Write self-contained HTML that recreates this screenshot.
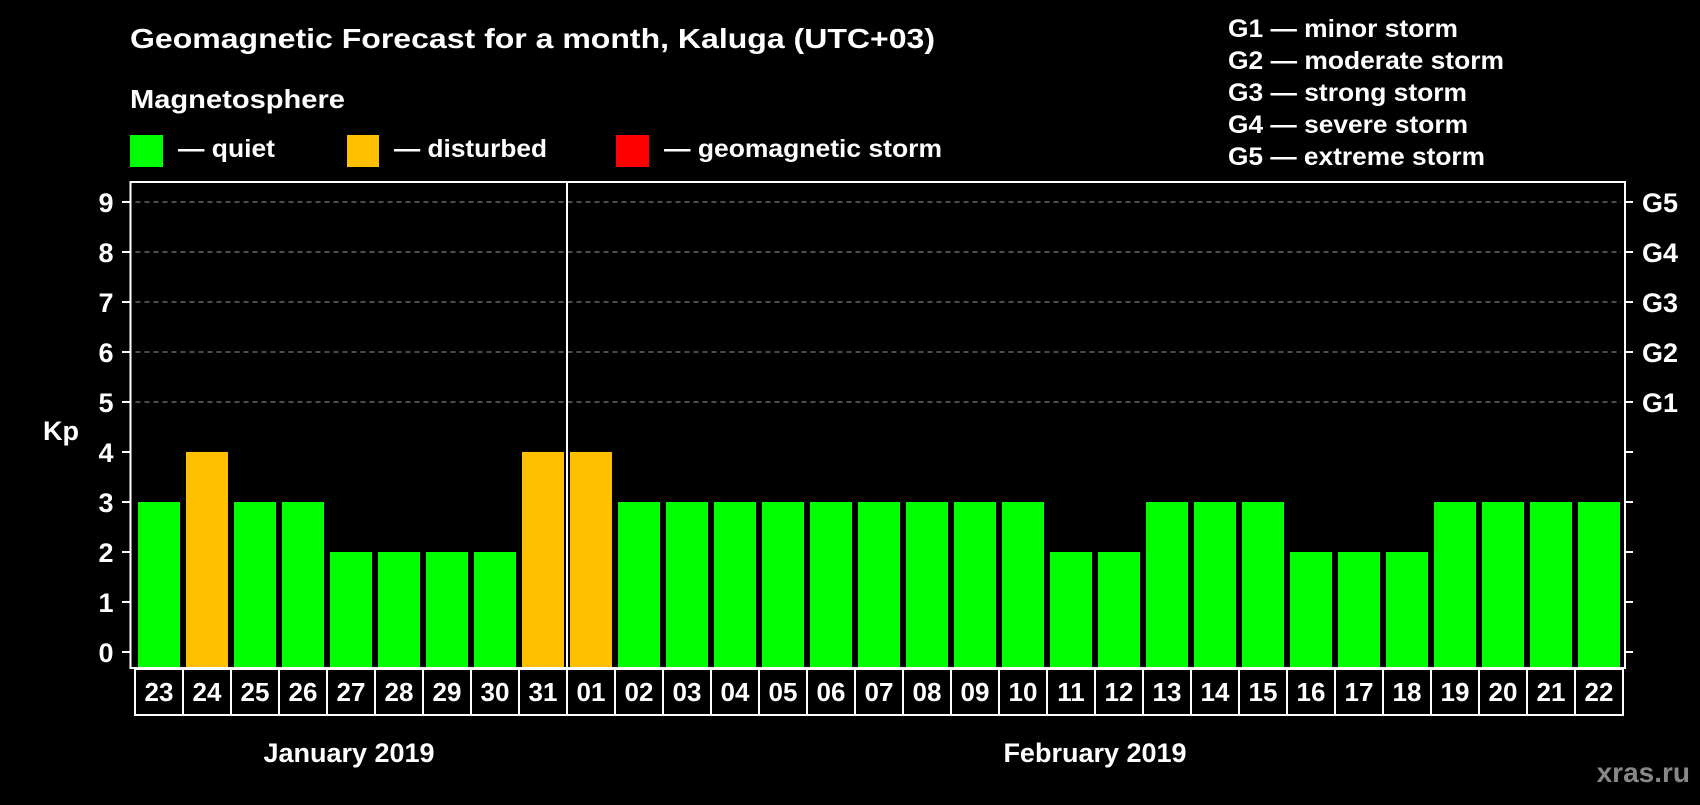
<!DOCTYPE html>
<html><head><meta charset="utf-8"><style>
html,body{margin:0;padding:0;background:#000;}
svg text{font-family:"Liberation Sans",Arial,sans-serif;font-weight:bold;fill:#fff;}
</style></head><body>
<svg id="chart" width="1700" height="800" viewBox="0 0 1700 800" xmlns="http://www.w3.org/2000/svg">
<rect width="1700" height="800" fill="#000"/>
<text x="130" y="48" font-size="28" textLength="805" lengthAdjust="spacingAndGlyphs">Geomagnetic Forecast for a month, Kaluga (UTC+03)</text>
<text x="130" y="108" font-size="26" textLength="215" lengthAdjust="spacingAndGlyphs">Magnetosphere</text>
<g>
<rect x="130" y="135" width="33" height="32" fill="#00ff00"/>
<text x="178" y="157" font-size="25" textLength="97" lengthAdjust="spacingAndGlyphs">— quiet</text></g>
<g>
<rect x="347" y="135" width="32" height="32" fill="#ffc000"/>
<text x="394" y="157" font-size="25" textLength="153" lengthAdjust="spacingAndGlyphs">— disturbed</text></g>
<g>
<rect x="616" y="135" width="33" height="32" fill="#ff0000"/>
<text x="664" y="157" font-size="25" textLength="278" lengthAdjust="spacingAndGlyphs">— geomagnetic storm</text></g>
<g font-size="25">
<text x="1228" y="37" textLength="230" lengthAdjust="spacingAndGlyphs">G1 — minor storm</text>
<text x="1228" y="69" textLength="276" lengthAdjust="spacingAndGlyphs">G2 — moderate storm</text>
<text x="1228" y="101" textLength="239" lengthAdjust="spacingAndGlyphs">G3 — strong storm</text>
<text x="1228" y="133" textLength="240" lengthAdjust="spacingAndGlyphs">G4 — severe storm</text>
<text x="1228" y="165" textLength="257" lengthAdjust="spacingAndGlyphs">G5 — extreme storm</text>
</g>
<text x="43" y="440" font-size="27">Kp</text>
<g id="grid"></g><g id="bars"></g><g id="axes"></g>
<text x="349" y="762" font-size="27" text-anchor="middle">January 2019</text>
<text x="1095" y="762" font-size="27" text-anchor="middle">February 2019</text>
<text x="1690" y="782" font-size="28" text-anchor="end" style="fill:#888">xras.ru</text>
</svg>
<script>
const days = ["23","24","25","26","27","28","29","30","31","01","02","03","04","05","06","07","08","09","10","11","12","13","14","15","16","17","18","19","20","21","22"];
const kpValues = [3,4,3,3,2,2,2,2,4,4,3,3,3,3,3,3,3,3,3,2,2,3,3,3,2,2,2,3,3,3,3];
const yTicks = [0,1,2,3,4,5,6,7,8,9];
const gLabels = ["G1","G2","G3","G4","G5"];
const NS="http://www.w3.org/2000/svg";
const X0=135, STEP=48, PLOT_L=130.5, PLOT_R=1625, PLOT_T=182, PLOT_B=668;
const BOX_T=669, BOX_B=715;
function y(v){return 652-v*50;}
function x(i){return X0+i*STEP;}
function mk(tag,attrs,parent){const e=document.createElementNS(NS,tag);for(const k in attrs)e.setAttribute(k,attrs[k]);parent.appendChild(e);return e;}
const grid=document.getElementById('grid'),bars=document.getElementById('bars'),axes=document.getElementById('axes');
yTicks.forEach(t=>{
  if(t>=5){const l=mk('line',{x1:PLOT_L+5,x2:PLOT_R-4,y1:y(t),y2:y(t),stroke:'#999','stroke-width':1,'stroke-dasharray':'5,4'},grid);
    
    }
  const tl=mk('line',{x1:122,x2:PLOT_L,y1:y(t),y2:y(t),stroke:'#fff','stroke-width':2},axes);
  
  
  const tr=mk('line',{x1:PLOT_R,x2:1633,y1:y(t),y2:y(t),stroke:'#fff','stroke-width':2},axes);
  
  
  const tx=mk('text',{x:106,y:y(t)+10,'font-size':27,'text-anchor':'middle'},axes);
  tx.textContent=t;
  
  
});
gLabels.forEach((g,i)=>{
  const tx=mk('text',{x:1642,y:y(5+i)+10,'font-size':27},axes);
  tx.textContent=g;
  
  
});
kpValues.forEach((v,i)=>{
  const col=v>=5?'#ff0000':(v>=4?'#ffc000':'#00ff00');
  const r=mk('rect',{x:x(i)+3,y:y(v),width:42,height:PLOT_B-y(v),fill:col},bars);
  
  
  const b=mk('rect',{x:x(i),y:BOX_T,width:STEP,height:BOX_B-BOX_T,fill:'none',stroke:'#fff','stroke-width':2},axes);
  
  
  const t=mk('text',{x:x(i)+STEP/2,y:701,'font-size':26,'text-anchor':'middle'},axes);
  t.textContent=days[i];
  
  
});
const fr=mk('rect',{x:PLOT_L,y:PLOT_T,width:PLOT_R-PLOT_L,height:PLOT_B-PLOT_T,fill:'none',stroke:'#fff','stroke-width':2},axes);


const di=mk('line',{x1:x(9),x2:x(9),y1:PLOT_T,y2:BOX_B,stroke:'#fff','stroke-width':2},axes);


</script>
</body></html>
